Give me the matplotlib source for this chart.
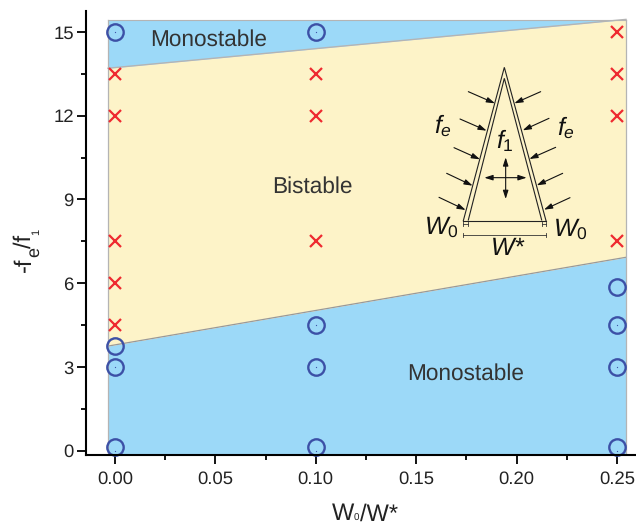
import matplotlib
matplotlib.use("Agg")
import matplotlib.pyplot as plt
import numpy as np

plt.rcParams["font.family"] = ["Liberation Sans", "DejaVu Sans"]
plt.rcParams["mathtext.fontset"] = "custom"
plt.rcParams["mathtext.rm"] = "Liberation Sans"
plt.rcParams["mathtext.it"] = "Liberation Sans:italic"
plt.rcParams["mathtext.default"] = "rm"
plt.rcParams["text.hinting"] = "no_hinting"

W, H = 636, 525

# phase boundaries, sampled at the two ends of the shaded area
region_x = [-0.0035, 0.2545]
lower_boundary = [3.75, 6.93]
upper_boundary = [13.7, 15.45]
region_bottom = -0.14
region_top = 15.43

# simulation outcomes
cross_x = [0, 0, 0, 0, 0, 0.1, 0.1, 0.1, 0.25, 0.25, 0.25, 0.25]
cross_y = [13.5, 12, 7.5, 6, 4.5, 13.5, 12, 7.5, 15, 13.5, 12, 7.5]
circle_x = [0, 0, 0, 0, 0.1, 0.1, 0.1, 0.1, 0.25, 0.25, 0.25, 0.25]
circle_y = [15, 3.75, 3, 0.13, 15, 4.5, 3, 0.13, 5.85, 4.5, 3, 0.13]
dot_x = [0, 0, 0, 0.1, 0.1, 0.1, 0.1, 0.25, 0.25, 0.25]
dot_y = [15, 3, 0, 15, 4.5, 3, 0, 4.5, 3, 0]

x_major = [0, 0.05, 0.10, 0.15, 0.20, 0.25]
x_minor = [0.025, 0.075, 0.125, 0.175, 0.225]
y_major = [0, 3, 6, 9, 12, 15]
y_minor = [1.5, 4.5, 7.5, 10.5, 13.5]

BLUE = "#9cd9f8"
YELLOW = "#fdf3c8"
EDGE = "#b4b4b4"

fig = plt.figure(figsize=(W / 100, H / 100), dpi=100)
ax = fig.add_axes([85.5 / W, (H - 454.7) / H, (W - 85.5) / W, (454.7 - 11) / H])
ax.set_xlim(-0.0147, 0.2595)
ax.set_ylim(-0.14, 15.75)

ax.fill_between(region_x, region_bottom, lower_boundary, color=BLUE, lw=0)
ax.fill_between(region_x, lower_boundary, upper_boundary, color=YELLOW, lw=0)
ax.fill_between(region_x, upper_boundary, region_top, color=BLUE, lw=0)
ax.plot(region_x, lower_boundary, color="#999999", lw=0.9)
ax.plot(region_x, upper_boundary, color=EDGE, lw=1.0)
ax.plot(region_x, [region_top, region_top], color=EDGE, lw=0.8)
ax.plot([region_x[0]] * 2, [region_bottom, region_top], color=EDGE, lw=0.9)
ax.plot([region_x[1]] * 2, [region_bottom, region_top], color=EDGE, lw=0.9)

ax.plot(cross_x, cross_y, ls="", marker="x", ms=8.8, mew=1.6, color="#ee2a30", clip_on=False)
ax.plot(circle_x, circle_y, ls="", marker="o", ms=11.8, mew=1.7, mfc="none", mec="#3c50a6", clip_on=False)
ax.plot(dot_x, dot_y, ls="", marker="o", ms=0.9, mew=0, color="#3c50a6")

ax.text(0.0468, 14.72, "Monostable", fontsize=16.3, color="#333333", ha="center", va="center")
ax.text(0.0985, 9.45, "Bistable", fontsize=16.3, color="#333333", ha="center", va="center")
ax.text(0.1745, 2.77, "Monostable", fontsize=16.3, color="#333333", ha="center", va="center")

for side in ["top", "right"]:
    ax.spines[side].set_visible(False)
for side in ["left", "bottom"]:
    ax.spines[side].set_linewidth(1.5)

ax.set_xticks(x_major, ["%.2f" % v for v in x_major])
ax.set_xticks(x_minor, minor=True)
ax.set_yticks(y_major, [str(v) for v in y_major])
ax.set_yticks(y_minor, minor=True)
ax.tick_params(which="major", length=6.5, width=1.3, labelsize=13.3, labelcolor="#222222")
ax.tick_params(axis="x", which="major", pad=5)
ax.tick_params(axis="y", which="major", pad=2)
ax.tick_params(which="minor", length=3.5, width=1.3)

# overlay in pixel coordinates for axis titles and the schematic
ov = fig.add_axes([0, 0, 1, 1], facecolor="none")
ov.set_xlim(0, W)
ov.set_ylim(H, 0)
ov.axis("off")

# axis titles are assembled from pieces because the subscripts have odd sizes
for x, s, size in [(332, "W", 17), (354, "0", 7), (360, "/W*", 17)]:
    ov.text(x, 520.5, s, fontsize=size, ha="left", va="baseline", color="#222222")
for y, bx, s, size in [(272, 31, "-f", 17), (257, 39, "e", 13), (248, 31, "/f", 17), (235, 39, "1", 8)]:
    ov.text(bx, y, s, fontsize=size, ha="left", va="baseline", rotation=90,
            rotation_mode="anchor", color="#222222")

# triangle schematic (zoomed-crop coordinates, converted below)
def z(px, py):
    return 400 + px / 3, 50 + py / 3

outer = [z(190, 512), z(313, 52), z(438, 512)]
inner = [z(205, 510), z(313, 85), z(425, 510)]
base = [z(190, 512), z(438, 512)]
for line in (outer, inner, base):
    xs, ys = zip(*line)
    ov.plot(xs, ys, color="#222222", lw=0.8, solid_joinstyle="miter")

force_arrows = [
    ((205, 125), (285, 160)), ((180, 207), (260, 242)), ((162, 293), (240, 328)),
    ((140, 370), (218, 407)), ((117, 442), (197, 480)), ((422, 125), (343, 160)),
    ((447, 205), (368, 241)), ((467, 292), (388, 327)), ((488, 370), (410, 406)),
    ((510, 443), (432, 479)),
]
for tail, head in force_arrows:
    ov.annotate("", xy=z(*head), xytext=z(*tail),
                arrowprops=dict(arrowstyle="-|>,head_length=0.5,head_width=0.16",
                                color="#111111", lw=0.8, shrinkA=0, shrinkB=0))
for a, b in [((253, 383), (380, 383)), ((317, 322), (317, 447))]:
    ov.annotate("", xy=z(*b), xytext=z(*a),
                arrowprops=dict(arrowstyle="<|-|>,head_length=0.5,head_width=0.16",
                                color="#111111", lw=0.8, shrinkA=0, shrinkB=0))

# width brackets under the triangle
for a, b, cap in [((190, 555), (438, 555), 7), ((190, 522), (204, 522), 5), ((426, 522), (438, 522), 5)]:
    x0, y0 = z(*a)
    x1, y1 = z(*b)
    ov.plot([x0, x1], [y0, y1], color="#333333", lw=0.6)
    ov.plot([x0, x0], [y0 - cap / 3, y0 + cap / 3], color="#333333", lw=0.6)
    ov.plot([x1, x1], [y1 - cap / 3, y1 + cap / 3], color="#333333", lw=0.6)

labels = [
    (130, 228, r"$\mathit{f}_{\mathit{e}}$"), (497, 235, r"$\mathit{f}_{\mathit{e}}$"),
    (315, 272, r"$\mathit{f}_{\mathit{1}}$"), (125, 532, r"$\mathit{W}_{\mathit{0}}$"),
    (510, 538, r"$\mathit{W}_{\mathit{0}}$"), (325, 597, r"$\mathit{W}$*"),
]
for px, py, s in labels:
    x, y = z(px, py)
    ov.text(x, y, s, fontsize=18, style="italic", ha="center", va="center", color="#111111")

fig.savefig("out.png", dpi=100)
